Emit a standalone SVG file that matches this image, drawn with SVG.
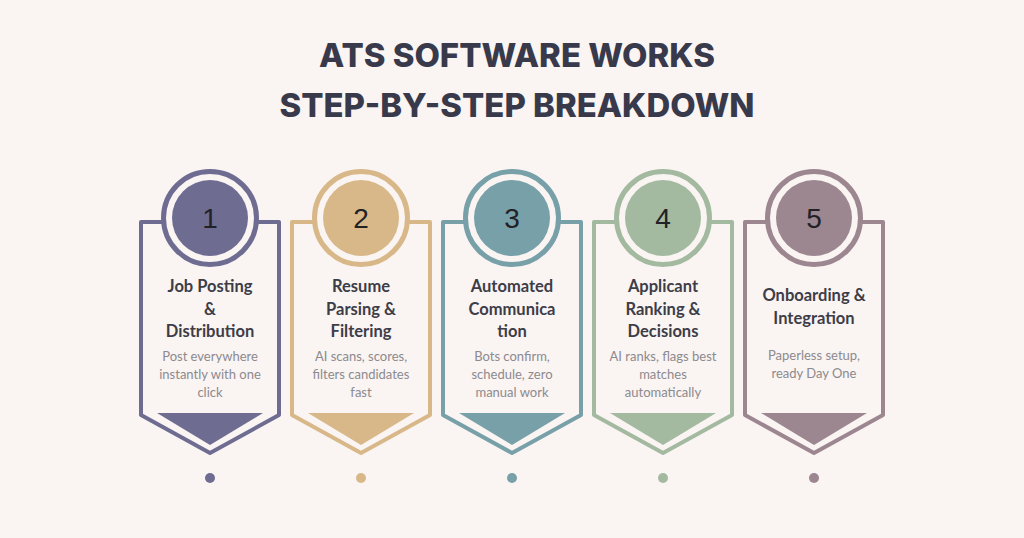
<svg xmlns="http://www.w3.org/2000/svg" width="1024" height="538" viewBox="0 0 1024 538">
<style>
.bg{fill:#faf4f2}
.title{font-family:Inter,"Liberation Sans",sans-serif;font-weight:800;font-size:33px;fill:#383a4c;text-anchor:middle}
.outline{fill:#faf4f2;stroke-width:4;stroke-linejoin:round}
.ring{fill:#faf4f2;stroke-width:5}
.num{font-family:"Liberation Sans",Arial,sans-serif;font-size:28px;fill:#222226;text-anchor:middle}
.head{font-family:Lato,"Liberation Sans",sans-serif;font-weight:700;font-size:16.5px;fill:#3d3d48;text-anchor:middle}
.desc{font-family:Lato,"Liberation Sans",sans-serif;font-size:13px;fill:#8c8a8e;text-anchor:middle}
.c1{stroke:#6f6c92;fill:#6f6c92}
.c2{stroke:#d8b888;fill:#d8b888}
.c3{stroke:#78a0a8;fill:#78a0a8}
.c4{stroke:#a3baa0;fill:#a3baa0}
.c5{stroke:#9c8690;fill:#9c8690}
</style>
<defs>
<g id="card">
<path class="outline" d="M-69 222 L69 222 L69 415 L0 453 L-69 415 Z"/>
<circle class="ring" cx="0" cy="218" r="46.5"/>
<circle cx="0" cy="218" r="38" stroke="none"/>
<path d="M-53 413 L53 413 L0 445 Z" stroke="none"/>
<circle cx="0" cy="478" r="5" stroke="none"/>
</g>
</defs>
<rect class="bg" x="0" y="0" width="1024" height="538"/>
<g id="title">
<text class="title" x="517" y="67" textLength="396" lengthAdjust="spacingAndGlyphs">ATS SOFTWARE WORKS</text>
<text class="title" x="517" y="117" textLength="475" lengthAdjust="spacingAndGlyphs">STEP-BY-STEP BREAKDOWN</text>
</g>
<g id="connectors"></g>
<g id="step1">
<use href="#card" x="210" class="c1"/>
<text class="num" x="210" y="228">1</text>
<text class="head" x="210" y="292">Job Posting</text>
<text class="head" x="210" y="314.5">&amp;</text>
<text class="head" x="210" y="337">Distribution</text>
<text class="desc" x="210" y="361">Post everywhere</text>
<text class="desc" x="210" y="379">instantly with one</text>
<text class="desc" x="210" y="397">click</text>
</g>
<g id="step2">
<use href="#card" x="361" class="c2"/>
<text class="num" x="361" y="228">2</text>
<text class="head" x="361" y="292">Resume</text>
<text class="head" x="361" y="314.5">Parsing &amp;</text>
<text class="head" x="361" y="337">Filtering</text>
<text class="desc" x="361" y="361">AI scans, scores,</text>
<text class="desc" x="361" y="379">filters candidates</text>
<text class="desc" x="361" y="397">fast</text>
</g>
<g id="step3">
<use href="#card" x="512" class="c3"/>
<text class="num" x="512" y="228">3</text>
<text class="head" x="512" y="292">Automated</text>
<text class="head" x="512" y="314.5">Communica</text>
<text class="head" x="512" y="337">tion</text>
<text class="desc" x="512" y="361">Bots confirm,</text>
<text class="desc" x="512" y="379">schedule, zero</text>
<text class="desc" x="512" y="397">manual work</text>
</g>
<g id="step4">
<use href="#card" x="663" class="c4"/>
<text class="num" x="663" y="228">4</text>
<text class="head" x="663" y="292">Applicant</text>
<text class="head" x="663" y="314.5">Ranking &amp;</text>
<text class="head" x="663" y="337">Decisions</text>
<text class="desc" x="663" y="361">AI ranks, flags best</text>
<text class="desc" x="663" y="379">matches</text>
<text class="desc" x="663" y="397">automatically</text>
</g>
<g id="step5">
<use href="#card" x="814" class="c5"/>
<text class="num" x="814" y="228">5</text>
<text class="head" x="814" y="301">Onboarding &amp;</text>
<text class="head" x="814" y="323.5">Integration</text>
<text class="desc" x="814" y="360">Paperless setup,</text>
<text class="desc" x="814" y="378">ready Day One</text>
</g>
</svg>
